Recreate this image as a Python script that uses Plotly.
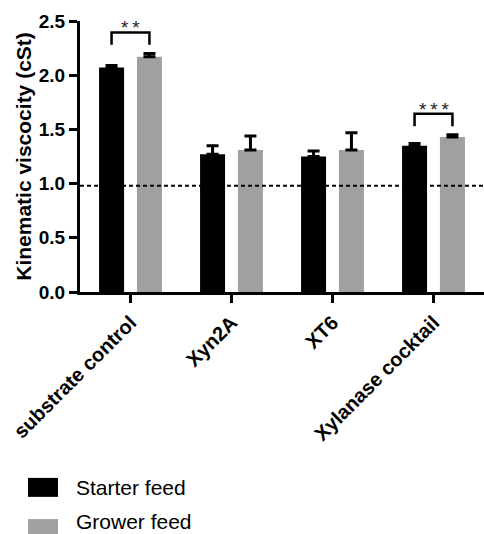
import plotly.graph_objects as go

categories = ["substrate control", "Xyn2A", "XT6", "Xylanase cocktail"]
starter_vals = [2.07, 1.27, 1.25, 1.35]
starter_err = [0.02, 0.08, 0.05, 0.02]
grower_vals = [2.17, 1.31, 1.31, 1.43]
grower_err = [0.03, 0.13, 0.16, 0.02]
baseline = 0.98
sig_pairs = [(0, "*\u2009*"), (3, "*\u2009*\u2009*")]
y_ticks = [0.0, 0.5, 1.0, 1.5, 2.0, 2.5]

FONT = "Liberation Sans, Arial, Helvetica, sans-serif"
BLACK = "#000000"
GRAY = "#a0a0a0"
BARGAP = 0.25
GROUPGAP = 0.34
offset = (1 - BARGAP) / 4  # center offset of each bar in a 2-bar group

x_idx = list(range(len(categories)))

fig = go.Figure()
fig.add_trace(go.Bar(
    x=x_idx, y=starter_vals, name="Starter feed",
    marker=dict(color=BLACK, line=dict(width=0)),
    error_y=dict(type="data", array=starter_err, arrayminus=[0]*4, symmetric=False,
                 color=BLACK, thickness=3, width=6),
))
fig.add_trace(go.Bar(
    x=x_idx, y=grower_vals, name="Grower feed",
    marker=dict(color=GRAY, line=dict(width=0)),
    error_y=dict(type="data", array=grower_err, arrayminus=[0]*4, symmetric=False,
                 color=BLACK, thickness=3, width=6),
))

shapes = []
annotations = []
# reference dashed line
shapes.append(dict(type="line", xref="paper", yref="y", x0=0, x1=1, y0=baseline, y1=baseline,
                   line=dict(color=BLACK, width=2, dash="4px,3px"), layer="above"))

# significance brackets
for i, stars in sig_pairs:
    top = max(starter_vals[i] + starter_err[i], grower_vals[i] + grower_err[i])
    y_leg = top + 0.08
    y_top = y_leg + 0.115
    xl, xr = i - offset, i + offset
    shapes.append(dict(type="path", xref="x", yref="y",
                       path=f"M {xl},{y_leg} L {xl},{y_top} L {xr},{y_top} L {xr},{y_leg}",
                       line=dict(color=BLACK, width=2.5)))
    annotations.append(dict(x=i, y=y_top, xref="x", yref="y", text=stars, showarrow=False,
                            yanchor="bottom", yshift=-8, font=dict(family=FONT, size=19, color="#222")))

# legend (manual, large swatches)
legend_items = [("Starter feed", BLACK, -0.686, -0.756, -0.723),
                ("Grower feed", GRAY, -0.838, -0.908, -0.848)]
for name, col, y0, y1, yc in legend_items:
    shapes.append(dict(type="rect", xref="paper", yref="paper", x0=-0.1287, x1=-0.0545,
                       y0=y0, y1=y1, fillcolor=col, line=dict(width=0)))
    annotations.append(dict(x=-0.0149, y=yc, xref="paper", yref="paper", text=name,
                            showarrow=False, xanchor="left", yanchor="middle",
                            font=dict(family=FONT, size=21, color=BLACK)))

fig.update_layout(
    width=484, height=534,
    margin=dict(l=80, r=0, t=21, b=242),
    paper_bgcolor="white", plot_bgcolor="white",
    barmode="group", bargap=BARGAP, bargroupgap=GROUPGAP,
    showlegend=False,
    font=dict(family=FONT, color=BLACK),
    shapes=shapes, annotations=annotations,
    xaxis=dict(
        tickmode="array", tickvals=x_idx, ticktext=[f"<b>{c}</b>" for c in categories],
        range=[-0.5, 3.5], tickangle=-45,
        showline=True, linecolor=BLACK, linewidth=3,
        ticks="outside", ticklen=8, tickwidth=2.5, tickcolor=BLACK,
        tickfont=dict(family=FONT, size=20, color=BLACK),
        showgrid=False, zeroline=False,
    ),
    yaxis=dict(
        range=[0, 2.5], tickmode="array", tickvals=y_ticks,
        ticktext=[f"<b>{v:.1f}</b>" for v in y_ticks],
        showline=True, linecolor=BLACK, linewidth=3,
        ticks="outside", ticklen=8, tickwidth=2.5, tickcolor=BLACK,
        tickfont=dict(family=FONT, size=19, color=BLACK),
        showgrid=False, zeroline=False,
        title=dict(text="<b>Kinematic viscocity (cSt)</b>", standoff=2,
                   font=dict(family=FONT, size=21, color=BLACK)),
    ),
)

fig.write_html("out.html")
